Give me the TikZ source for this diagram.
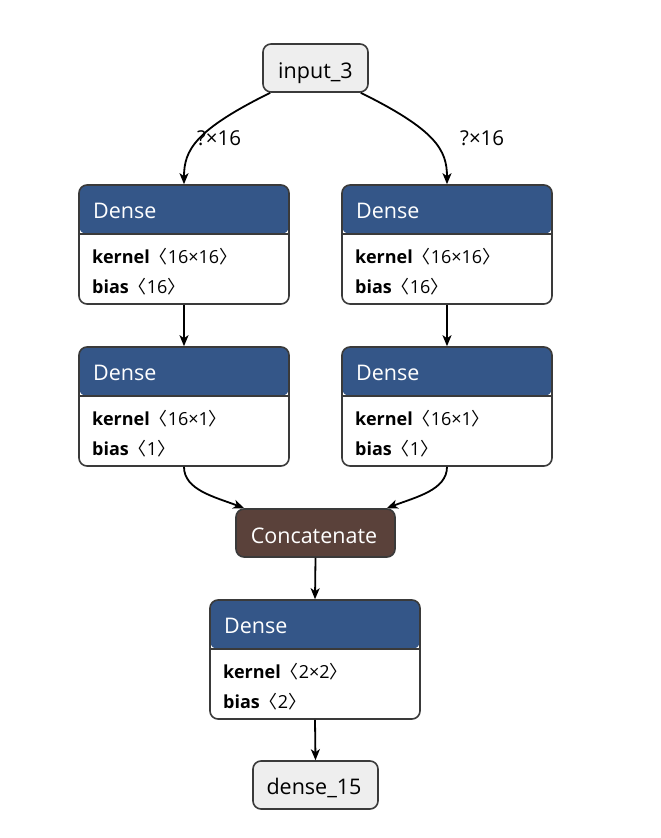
\documentclass[tikz,border=0pt]{standalone}
\usepackage{fontspec}
\setmainfont{Open Sans}
\newfontfamily\cjk{Noto Sans CJK SC}
\usetikzlibrary{arrows.meta}
\definecolor{headblue}{HTML}{345688}
\definecolor{catbrown}{HTML}{5A413A}
\definecolor{bordercol}{HTML}{3A3A3A}
\definecolor{iofill}{HTML}{EEEEEE}
\newcommand{\titlefont}{\fontsize{21.5}{25}\selectfont}
\newcommand{\attrfont}{\fontsize{18}{21}\selectfont}
\newcommand{\lblfont}{\fontsize{20.5}{24}\selectfont}
\newcommand{\lbr}{{\cjk 〈}}
\newcommand{\rbr}{{\cjk 〉}}
\tikzset{
  densenode/.style={draw=bordercol, line width=1.6pt, fill=white, rounded corners=8pt,
    minimum width=210pt, minimum height=119pt, inner sep=0pt,
    path picture={
      \fill[headblue] (path picture bounding box.north west) rectangle ([yshift=-49pt]path picture bounding box.north east);
      \draw[bordercol, line width=1.6pt] ([yshift=-49pt]path picture bounding box.north west) -- ([yshift=-49pt]path picture bounding box.north east);
    }},
  ionode/.style={draw=bordercol, line width=1.6pt, fill=iofill, rounded corners=8pt,
    minimum height=48pt, inner sep=0pt},
  catnode/.style={draw=bordercol, line width=1.6pt, fill=catbrown, rounded corners=8pt,
    minimum width=159pt, minimum height=48pt, inner sep=0pt},
  txt/.style={anchor=base west, inner sep=0pt},
  edge/.style={draw=black, line width=1.8pt, -{Stealth[length=11pt, width=9pt, inset=3pt]}},
}
% name, left x, top y, kernel, bias
\newcommand{\densebox}[5]{%
  \node[densenode] (#1) at (#2+105,#3+59.5) {};
  \node[txt, text=white, font=\titlefont] (#1-t) at (#2+14,#3+33) {Dense};
  \node[txt, font=\attrfont] (#1-k) at (#2+13,#3+78) {\textbf{kernel}\lbr#4\rbr};
  \node[txt, font=\attrfont] (#1-b) at (#2+13,#3+108) {\textbf{bias}\lbr#5\rbr};
}
\begin{document}
\begin{tikzpicture}[x=1pt,y=-1pt]
\useasboundingbox (0,0) rectangle (661,838);
\node[ionode, minimum width=105pt] (in) at (315.5,68) {};
\node[font=\titlefont, inner sep=0pt, anchor=base] (in-t) at (315.5,78) {input\_3};

\densebox{d1l}{79}{185}{16×16}{16}
\densebox{d1r}{342}{185}{16×16}{16}
\densebox{d2l}{79}{347}{16×1}{1}
\densebox{d2r}{342}{347}{16×1}{1}

\node[catnode] (cat) at (315.5,533) {};
\node[text=white, font=\titlefont, inner sep=0pt, anchor=base] (cat-t) at (314,543) {Concatenate};

\densebox{d3}{210}{600}{2×2}{2}

\node[ionode, minimum width=125pt] (out) at (315.5,785) {};
\node[font=\titlefont, inner sep=0pt, anchor=base] (out-t) at (314,794) {dense\_15};

\draw[edge] ([xshift=8pt]in.south west) .. controls (195,130) and (184,150) .. (d1l.north);
\draw[edge] ([xshift=-8pt]in.south east) .. controls (436,130) and (447,150) .. (d1r.north);
\node[txt, font=\lblfont] (lbl-l) at (197,145) {?×16};
\node[txt, font=\lblfont] (lbl-r) at (460,145) {?×16};

\draw[edge] (d1l.south) -- (d2l.north);
\draw[edge] (d1r.south) -- (d2r.north);
\draw[edge] (d2l.south) .. controls (184,490) and (215,497) .. ([xshift=9pt]cat.north west);
\draw[edge] (d2r.south) .. controls (447,490) and (416,497) .. ([xshift=-9pt]cat.north east);
\draw[edge] (cat.south) -- (d3.north);
\draw[edge] (d3.south) -- (out.north);
\end{tikzpicture}
\end{document}
